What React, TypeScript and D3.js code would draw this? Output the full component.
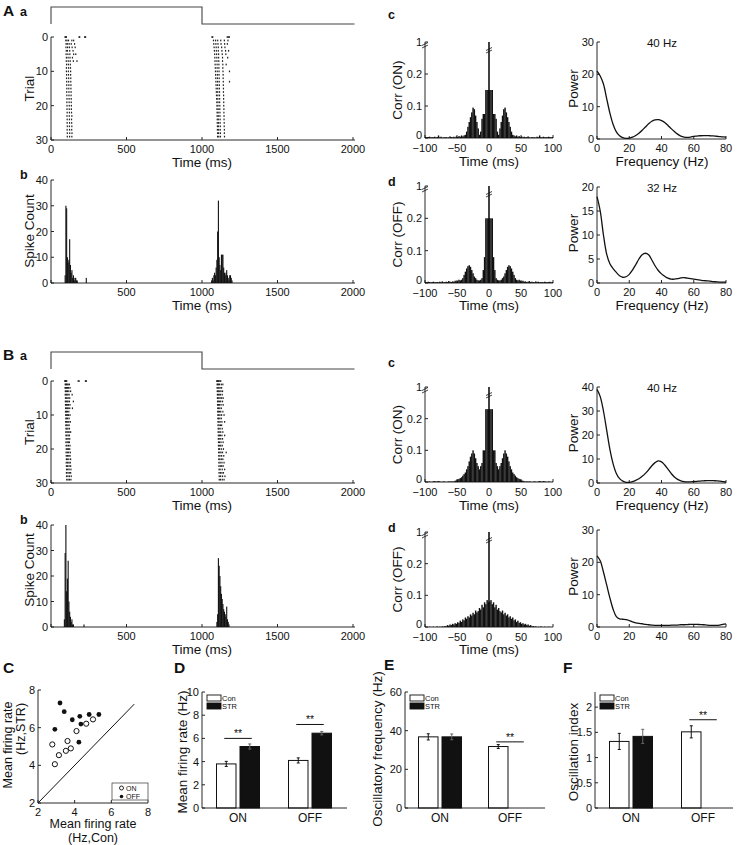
import React from "react";
import * as d3 from "d3";

const FONT = "'Liberation Sans', Arial, Helvetica, sans-serif";
const INK = "#111";

// ---------------- data ----------------
const TIME_TICKS = [0, 500, 1000, 1500, 2000];
const TRIAL_TICKS = [0, 10, 20, 30];
const COUNT_TICKS = [0, 10, 20, 30, 40];
const LAG_TICKS = [-100, -50, 0, 50, 100];
const LAG_LABELS = ["\u2212100", "\u221250", "0", "50", "100"];
const CORR_TICKS = [0, 0.1, 0.2, 0.3];
const CORR_LABELS = ["0", "0.1", "0.2", "1"];
const FREQ_TICKS = [0, 20, 40, 60, 80];

// stimulus: [time ms, level]
const STIMULUS = [
  [0, 0],
  [0, 1],
  [1000, 1],
  [1000, 0],
  [2010, 0],
];

// raster: per trial "ON spikes | OFF spikes" (ms)
const RASTER_A = [
  "93 97 102 186 190 223 229 | 1066 1071 1167 1174 1181",
  "98 106 116 138 150 | 1076 1090 1104 1124 1148 1172",
  "100 108 120 134 156 | 1078 1092 1106 1126 1150 1168",
  "99 110 122 140 160 | 1080 1094 1108 1130 1152",
  "101 109 124 146 | 1082 1095 1108 1132 1156 1176",
  "100 112 125 150 164 | 1084 1097 1110 1134 1158",
  "102 113 126 142 | 1085 1098 1110 1136 1170",
  "101 114 127 148 172 | 1086 1099 1111 1136",
  "103 115 128 | 1087 1100 1112 1138 1160",
  "102 116 129 | 1088 1100 1112 1138",
  "102 115 130 | 1089 1101 1113 1139 1182",
  "103 116 130 | 1090 1102 1113 1140",
  "103 117 131 | 1091 1102 1114 1140",
  "104 117 131 | 1092 1103 1114 1141 1182",
  "104 118 132 | 1093 1103 1115 1141",
  "105 118 132 | 1094 1104 1115 1142",
  "104 119 133 | 1095 1104 1116 1142",
  "105 119 133 | 1096 1105 1116 1143",
  "106 120 134 | 1097 1105 1117 1143",
  "105 120 134 | 1098 1106 1117 1144",
  "106 121 135 | 1099 1106 1118 1144",
  "106 121 135 | 1099 1107 1118 1145",
  "107 122 136 | 1100 1107 1119 1145",
  "106 121 138 | 1100 1108 1119 1146",
  "107 122 136 | 1101 1108 1120 1146",
  "107 123 137 | 1101 1109 1120 1147",
  "108 122 138 | 1102 1109 1121 1147",
  "107 123 137 | 1102 1110 1121 1148",
  "108 124 139 | 1103 1110 1122 1148",
  "108 123 138 | 1103 1111 1122 1149",
];

const RASTER_B = [
  "92 94 97 100 104 180 186 228 234 | 1098 1102 1106 1110 1118 1124",
  "94 98 102 108 114 122 | 1100 1104 1110 1116 1128 1138",
  "93 97 103 109 116 126 | 1100 1106 1112 1120 1130",
  "95 99 104 110 118 130 | 1101 1105 1111 1118 1126 1136",
  "94 100 105 112 120 140 | 1102 1108 1114 1122 1134",
  "96 100 106 114 124 | 1102 1106 1112 1120 1130 1140",
  "95 101 107 113 122 148 | 1103 1108 1116 1124 1136",
  "96 102 108 116 126 | 1103 1109 1115 1126 1140",
  "97 101 108 114 124 142 | 1104 1110 1118 1128",
  "96 102 109 118 | 1104 1108 1116 1124 1138",
  "97 103 110 116 126 | 1105 1111 1119 1130 1146",
  "98 104 110 120 | 1105 1110 1118 1128",
  "97 103 111 118 128 | 1106 1112 1120 1132 1150",
  "98 104 112 120 | 1106 1113 1122 1130",
  "99 105 112 122 | 1107 1112 1120 1134",
  "98 106 113 120 130 | 1107 1114 1124 1138",
  "99 105 114 122 | 1108 1115 1122 1132 1150",
  "100 106 114 124 | 1108 1114 1124 1136",
  "99 107 115 122 | 1109 1116 1126 1140",
  "100 106 116 126 | 1109 1117 1124 1134",
  "101 108 116 124 | 1110 1116 1128 1142",
  "100 108 117 128 | 1110 1118 1126 1136 1160",
  "101 109 118 126 | 1111 1119 1130 1144",
  "102 108 118 130 | 1111 1118 1128 1138",
  "101 110 119 128 | 1112 1120 1132 1146",
  "102 110 120 130 | 1112 1121 1130 1140",
  "103 111 120 132 | 1113 1120 1134 1150",
  "102 112 121 130 | 1113 1122 1132 1142",
  "103 112 122 134 | 1114 1123 1136 1152",
  "104 113 122 132 | 1114 1122 1134 1146",
];

// PSTH, 5 ms bins
const HIST_BIN = 5;
const HIST_A_ON_START = 90;
const HIST_A_ON = [3, 30, 29, 10, 8, 9, 17, 7, 4, 5, 2, 3, 1, 2, 2, 1, 1, 0, 0, 0, 0, 0, 0, 0, 0, 0, 0, 0, 2];
const HIST_A_OFF_START = 1060;
const HIST_A_OFF = [1, 2, 1, 3, 4, 3, 6, 9, 20, 32, 10, 7, 5, 11, 11, 11, 6, 4, 3, 4, 5, 3, 2, 1, 3, 3, 2, 1];
const HIST_B_ON_START = 85;
const HIST_B_ON = [3, 29, 40, 14, 19, 26, 10, 6, 4, 2, 3, 1, 1, 0, 0, 0, 0, 0, 0, 0, 0, 0, 0, 0, 0, 0, 1];
const HIST_B_OFF_START = 1095;
const HIST_B_OFF = [2, 5, 27, 24, 20, 16, 13, 11, 9, 7, 6, 5, 4, 8, 3, 2, 1];

// autocorrelograms: 2 ms bins, lags 1,3,...,99 ms (symmetric)
const CORR_BIN = 2;
const CORR_A_ON = [
  0.15, 0.15, 0.15, 0.075, 0.075, 0.06, 0.02, 0.01, 0.03, 0.05, 0.07, 0.09, 0.095, 0.08, 0.065, 0.05, 0.035, 0.02,
  0.01, 0.008, 0.005, 0.008, 0.004, 0.006, 0.003, 0.005, 0.002, 0.004, 0.002, 0.003, 0.005, 0.002, 0.001, 0.003,
  0.002, 0.002, 0.001, 0.004, 0.002, 0.008, 0.003, 0.002, 0.004, 0.002, 0.003, 0.002, 0.004, 0.003, 0.002, 0.003,
];
const CORR_A_OFF = [
  0.2, 0.2, 0.2, 0.08, 0.04, 0.015, 0.01, 0.008, 0.008, 0.01, 0.015, 0.02, 0.03, 0.04, 0.05, 0.055, 0.052, 0.045,
  0.035, 0.025, 0.015, 0.01, 0.008, 0.01, 0.006, 0.005, 0.007, 0.004, 0.005, 0.003, 0.004, 0.006, 0.003, 0.004,
  0.003, 0.002, 0.005, 0.003, 0.004, 0.002, 0.003, 0.003, 0.002, 0.004, 0.003, 0.002, 0.003, 0.004, 0.002, 0.003,
];
const CORR_B_ON = [
  0.23, 0.23, 0.23, 0.1, 0.1, 0.06, 0.05, 0.04, 0.05, 0.06, 0.075, 0.09, 0.1, 0.09, 0.08, 0.065, 0.05, 0.04, 0.03,
  0.025, 0.02, 0.015, 0.012, 0.01, 0.008, 0.005, 0.004, 0.002, 0.001, 0.002, 0.001, 0.002, 0.001, 0, 0.001, 0.002,
  0.001, 0, 0.002, 0.003, 0.002, 0.001, 0.003, 0.002, 0.001, 0, 0.002, 0.001, 0, 0.001,
];
const CORR_B_OFF = [
  0.08, 0.085, 0.072, 0.078, 0.062, 0.07, 0.055, 0.06, 0.05, 0.046, 0.052, 0.04, 0.045, 0.036, 0.04, 0.03, 0.034,
  0.026, 0.03, 0.021, 0.024, 0.016, 0.02, 0.013, 0.015, 0.01, 0.012, 0.008, 0.01, 0.006, 0.008, 0.004, 0.006, 0.002,
  0.003, 0.001, 0.002, 0, 0.001, 0, 0.002, 0, 0, 0.001, 0, 0, 0.001, 0, 0, 0,
];

// power spectra, 2 Hz steps from 0 to 80 Hz
const FREQ_STEP = 2;
const POWER_A_ON = [
  21, 19.5, 17, 12.5, 8, 4.5, 2.2, 1, 0.4, 0.2, 0.3, 0.6, 1.1, 1.8, 2.7, 3.7, 4.7, 5.5, 5.9, 6.0, 5.7, 5.1, 4.2, 3.2,
  2.3, 1.5, 0.9, 0.6, 0.5, 0.6, 0.8, 0.9, 1.0, 1.05, 1.05, 1.0, 0.95, 0.85, 0.75, 0.65, 0.6,
];
const POWER_A_OFF = [
  18, 15, 10, 6, 4, 3, 2.2, 1.5, 1.2, 1.3, 1.8, 2.7, 3.8, 5, 5.9, 6.2, 5.9, 4.8, 3.6, 2.6, 1.9, 1.4, 1.0, 0.8, 0.8, 0.9,
  1.05, 1.1, 1.0, 0.9, 0.8, 0.7, 0.6, 0.5, 0.45, 0.4, 0.3, 0.25, 0.2, 0.2, 0.2,
];
const POWER_B_ON = [
  39, 36, 30, 22, 14, 8, 4, 1.8, 0.8, 0.3, 0.3, 0.6, 1.1, 1.8, 2.8, 4, 5.5, 7.2, 8.5, 9.2, 8.8, 7.5, 5.8, 4, 2.5, 1.5,
  0.9, 0.6, 0.5, 0.5, 0.6, 0.7, 0.8, 0.9, 1.0, 1.0, 1.0, 0.9, 0.8, 0.6, 0.4,
];
const POWER_B_OFF = [
  22, 20.5, 17, 13, 9, 5.5, 3.2, 2.5, 2.4, 2.3, 2.0, 1.6, 1.3, 1.1, 1.0, 0.8, 0.7, 0.6, 0.5, 0.5, 0.5, 0.5, 0.5, 0.55,
  0.6, 0.6, 0.7, 0.7, 0.75, 0.8, 0.8, 0.8, 0.75, 0.7, 0.6, 0.5, 0.5, 0.5, 0.6, 0.8, 1.0,
];

// summary
const SCATTER_ON = [
  [2.78, 5.11], [2.92, 4.06], [3.14, 4.54], [3.52, 4.77], [3.61, 5.29], [3.79, 4.9], [4.1, 5.82], [4.63, 6.21], [5.0, 6.44],
];
const SCATTER_OFF = [
  [2.92, 5.91], [3.2, 7.31], [3.43, 6.85], [3.87, 6.42], [4.28, 6.6], [4.34, 6.19], [4.23, 5.23], [4.79, 6.7], [5.32, 6.7],
];
const SCATTER_TICKS = [2, 4, 6, 8];

const GROUPS = ["ON", "OFF"];
const RATE_CON = [3.8, 4.1];
const RATE_CON_ERR = [0.22, 0.22];
const RATE_STR = [5.3, 6.45];
const RATE_STR_ERR = [0.22, 0.15];
const RATE_SIG = [6.0, 7.2];
const RATE_TICKS = [0, 2, 4, 6, 8, 10];

const OFREQ_CON = [36.8, 31.8];
const OFREQ_CON_ERR = [1.6, 1.0];
const OFREQ_STR = [36.8, null];
const OFREQ_STR_ERR = [1.5, null];
const OFREQ_SIG = [null, 34.2];
const OFREQ_TICKS = [0, 20, 40, 60];

const OSC_CON = [1.32, 1.51];
const OSC_CON_ERR = [0.16, 0.12];
const OSC_STR = [1.42, null];
const OSC_STR_ERR = [0.14, null];
const OSC_SIG = [null, 1.75];
const OSC_TICKS = [0, 0.5, 1, 1.5, 2];

// ---------------- helpers ----------------
const SW = 0.9;

function T({ x, y, s = 11, a = "middle", w = "normal", r = 0, children }: any) {
  return (
    <text
      x={x}
      y={y}
      fontSize={s}
      textAnchor={a}
      dominantBaseline="central"
      fontWeight={w}
      fontFamily={FONT}
      fill={INK}
      transform={r ? `rotate(${r},${x},${y})` : undefined}
    >
      {children}
    </text>
  );
}

function LeftAxis({ scale, x, ticks, labels, fs = 11, tl = 3, firstDy = 0 }: any) {
  const [r0, r1] = scale.range();
  return (
    <g>
      <line x1={x} x2={x} y1={r0} y2={r1} stroke={INK} strokeWidth={SW} />
      {ticks.map((t: number, i: number) => (
        <g key={i}>
          <line x1={x} x2={x + tl} y1={scale(t)} y2={scale(t)} stroke={INK} strokeWidth={SW} />
          <T x={x - 3} y={scale(t) + (i === 0 ? firstDy : 0)} s={fs} a="end">
            {labels ? labels[i] : String(t)}
          </T>
        </g>
      ))}
    </g>
  );
}

function BottomAxis({ scale, y, ticks, labels, fs = 11, tl = 3, skipFirst = false, x1, dy = 9 }: any) {
  const [r0, r1] = scale.range();
  return (
    <g>
      <line x1={r0} x2={x1 ?? r1} y1={y} y2={y} stroke={INK} strokeWidth={SW} />
      {ticks.map((t: number, i: number) => (
        <g key={i}>
          <line x1={scale(t)} x2={scale(t)} y1={y} y2={y - tl} stroke={INK} strokeWidth={SW} />
          {!(skipFirst && i === 0) && (
            <T x={scale(t)} y={y + dy} s={fs}>
              {labels ? labels[i] : String(t)}
            </T>
          )}
        </g>
      ))}
    </g>
  );
}

function parseRaster(rows: string[]) {
  const pts: { t: number; trial: number }[] = [];
  rows.forEach((row, trial) => {
    row
      .split(/[\s|]+/)
      .filter(Boolean)
      .map(Number)
      .forEach((t) => pts.push({ t, trial }));
  });
  return pts;
}

function BreakMark({ x, y }: any) {
  return (
    <g stroke={INK} strokeWidth={0.8}>
      <line x1={x - 3} y1={y + 1.5} x2={x + 3} y2={y - 1.5} />
      <line x1={x - 3} y1={y + 4} x2={x + 3} y2={y + 1} />
    </g>
  );
}

function Correlogram({ vals, yRange, label, letter, letterY }: any) {
  const x = d3.scaleLinear().domain([-100, 100]).range([425, 553]);
  const y = d3.scaleLinear().domain([0, 0.3]).range(yRange);
  const y0 = y(0);
  const bars: any[] = [];
  vals.forEach((v: number, i: number) => {
    const lag = CORR_BIN / 2 + i * CORR_BIN;
    [-1, 1].forEach((sg) => {
      const c = sg * lag;
      const xa = x(c - CORR_BIN / 2);
      const xb = x(c + CORR_BIN / 2);
      if (v > 0)
        bars.push(
          <rect key={`${i}_${sg}`} x={xa} width={xb - xa + 0.15} y={y(v)} height={y0 - y(v)} fill={INK} />
        );
    });
  });
  const top = y(0.3);
  return (
    <g>
      <T x={388} y={letterY} s={12.5} w="bold" a="start">
        {letter}
      </T>
      {bars}
      <line x1={x(0)} x2={x(0)} y1={y0} y2={top} stroke={INK} strokeWidth={1.6} />
      <BreakMark x={x(0)} y={top + 7} />
      <LeftAxis scale={y} x={425} ticks={CORR_TICKS} labels={CORR_LABELS} firstDy={-3} />
      <BreakMark x={425} y={top + 2} />
      <BottomAxis scale={x} y={y0} ticks={LAG_TICKS} labels={LAG_LABELS} dy={10} />
      <T x={397} y={(y0 + top) / 2} s={13.5} r={-90}>
        {label}
      </T>
    </g>
  );
}

function PowerPlot({ vals, yMax, yTicks, yRange, title, showXLabel }: any) {
  const x = d3.scaleLinear().domain([0, 80]).range([597, 726]);
  const y = d3.scaleLinear().domain([0, yMax]).range(yRange);
  const line = d3
    .line<number>()
    .x((_, i) => x(i * FREQ_STEP))
    .y((d) => y(d))
    .curve(d3.curveCatmullRom.alpha(0.5));
  return (
    <g>
      <path d={line(vals) || ""} fill="none" stroke={INK} strokeWidth={1.3} />
      <LeftAxis scale={y} x={597} ticks={yTicks} />
      <BottomAxis scale={x} y={y(0)} ticks={FREQ_TICKS} />
      <T x={662} y={y(yMax) + 1} s={11.5}>
        {title}
      </T>
      <T x={573} y={(y(0) + y(yMax)) / 2 - 2} s={13.5} r={-90}>
        Power
      </T>
      {showXLabel && (
        <T x={662} y={y(0) + 22} s={13.5}>
          Frequency (Hz)
        </T>
      )}
    </g>
  );
}

function Histogram({ x, y, start, counts }: any) {
  return (
    <g>
      {counts.map((c: number, i: number) => {
        if (!c) return null;
        const t = start + i * HIST_BIN;
        const xa = x(t);
        const w = Math.max(1.1, x(t + HIST_BIN) - xa);
        return <rect key={i} x={xa} width={w} y={y(c)} height={y(0) - y(c)} fill={INK} />;
      })}
    </g>
  );
}

function NeuronBlock({ L, raster, hOnStart, hOn, hOffStart, hOff, cOn, cOff, pOn, pOff }: any) {
  const xT = d3.scaleLinear().domain([0, 2000]).range([51, 353]);
  const yR = d3.scaleLinear().domain([0, 30]).range(L.raster);
  const yH = d3.scaleLinear().domain([0, 40]).range(L.hist);
  const yS = d3.scaleLinear().domain([0, 1]).range([L.stimLow, L.stimHigh]);
  const stimLine = d3
    .line<number[]>()
    .x((d) => xT(d[0]))
    .y((d) => yS(d[1]));
  const spikes = parseRaster(raster);
  return (
    <g>
      <T x={3} y={L.letterY} s={15.5} w="bold" a="start">
        {L.letter}
      </T>
      <T x={20} y={L.letterY + 2} s={12.5} w="bold" a="start">
        a
      </T>
      <path d={stimLine(STIMULUS as any) || ""} fill="none" stroke="#444" strokeWidth={1.1} />
      {/* raster */}
      {spikes.map((s, i) => (
        <rect key={i} x={xT(s.t) - 0.6} y={yR(s.trial) - 0.8} width={1.2} height={1.7} fill="#222" />
      ))}
      <LeftAxis scale={yR} x={51} ticks={TRIAL_TICKS} />
      <BottomAxis scale={xT} y={L.raster[1]} ticks={TIME_TICKS} x1={355} />
      <T x={29} y={(L.raster[0] + L.raster[1]) / 2} s={13.5} r={-90}>
        Trial
      </T>
      <T x={202} y={L.raster[1] + 22} s={13.5}>
        Time (ms)
      </T>
      {/* histogram */}
      <T x={20} y={L.bY} s={12.5} w="bold" a="start">
        b
      </T>
      <Histogram x={xT} y={yH} start={hOnStart} counts={hOn} />
      <Histogram x={xT} y={yH} start={hOffStart} counts={hOff} />
      <LeftAxis scale={yH} x={51} ticks={COUNT_TICKS} />
      <BottomAxis scale={xT} y={L.hist[0]} ticks={TIME_TICKS} skipFirst x1={355} />
      <T x={29} y={L.histLabelY} s={13.5} r={-90}>
        Spike Count
      </T>
      <T x={202} y={L.hist[0] + 22} s={13.5}>
        Time (ms)
      </T>
      {/* correlograms */}
      <Correlogram vals={cOn} yRange={L.corrC} label="Corr (ON)" letter="c" letterY={L.cY} />
      <T x={489} y={L.corrC[0] + 23} s={13.5}>
        Time (ms)
      </T>
      <Correlogram vals={cOff} yRange={L.corrD} label="Corr (OFF)" letter="d" letterY={L.dY} />
      <T x={489} y={L.corrD[0] + 22} s={13.5}>
        Time (ms)
      </T>
      <PowerPlot {...pOn} showXLabel />
      <PowerPlot {...pOff} showXLabel={L.offFreqLabel} />
    </g>
  );
}

const LAYOUT_A = {
  letter: "A",
  letterY: 10,
  stimHigh: 7,
  stimLow: 24,
  raster: [37, 140],
  hist: [283, 180],
  histLabelY: 231,
  bY: 175,
  corrC: [138, 42],
  corrD: [283, 186],
  cY: 15,
  dY: 182,
  offFreqLabel: true,
};
const LAYOUT_B = {
  letter: "B",
  letterY: 354,
  stimHigh: 352,
  stimLow: 369,
  raster: [381, 483],
  hist: [627, 525],
  histLabelY: 570,
  bY: 520,
  corrC: [482, 387],
  corrD: [627, 532],
  cY: 363,
  dY: 528,
  offFreqLabel: false,
};

function Scatter() {
  const x = d3.scaleLinear().domain([2, 8]).range([38, 148]);
  const y = d3.scaleLinear().domain([2, 8]).range([803, 690]);
  return (
    <g>
      <T x={3} y={667} s={15.5} w="bold" a="start">
        C
      </T>
      <line x1={x(2)} y1={y(2)} x2={x(7.25)} y2={y(7.25)} stroke={INK} strokeWidth={1} />
      {SCATTER_ON.map((d, i) => (
        <circle key={`on${i}`} cx={x(d[0])} cy={y(d[1])} r={2.6} fill="#fff" stroke={INK} strokeWidth={1} />
      ))}
      {SCATTER_OFF.map((d, i) => (
        <circle key={`off${i}`} cx={x(d[0])} cy={y(d[1])} r={2.4} fill={INK} />
      ))}
      <LeftAxis scale={y} x={38} ticks={SCATTER_TICKS} />
      <BottomAxis scale={x} y={803} ticks={SCATTER_TICKS} />
      <rect x={112} y={783} width={36} height={17} fill="#fff" stroke={INK} strokeWidth={0.6} />
      <circle cx={121.5} cy={788} r={2} fill="#fff" stroke={INK} strokeWidth={0.9} />
      <circle cx={121.5} cy={796.5} r={1.8} fill={INK} />
      <T x={126} y={788} s={7} a="start">
        ON
      </T>
      <T x={126} y={796.5} s={7} a="start">
        OFF
      </T>
      <T x={93} y={824} s={12.5}>
        Mean firing rate
      </T>
      <T x={93} y={838} s={12.5}>
        (Hz,Con)
      </T>
      <T x={8} y={745} s={12.5} r={-90}>
        Mean firing rate
      </T>
      <T x={21} y={729} s={12.5} r={-90}>
        (Hz,STR)
      </T>
    </g>
  );
}

function BarPanel({ range, yMax, ticks, con, conErr, str, strErr, sig, ylabel, ylabelX, ylabelY, letter, letterX, letterY = 667, axisEnd }: any) {
  const x = d3.scaleLinear().domain([0.5, 2.5]).range(range);
  const y = d3.scaleLinear().domain([0, yMax]).range([808, 692]);
  const bw = 19.5;
  const bars: any[] = [];
  GROUPS.forEach((g, i) => {
    const c = x(i + 1);
    const items = [
      { v: con[i], e: conErr[i], fill: "#fff", xa: c - 2 - bw },
      { v: str[i], e: strErr[i], fill: INK, xa: c + 2 },
    ];
    items.forEach((it, j) => {
      if (it.v == null) return;
      const cx = it.xa + bw / 2;
      const ec = it.fill === INK ? "#666" : INK;
      bars.push(
        <g key={`${i}_${j}`}>
          <rect x={it.xa} y={y(it.v)} width={bw} height={808 - y(it.v)} fill={it.fill} stroke={INK} strokeWidth={1} />
          <line x1={cx} x2={cx} y1={y(it.v - it.e)} y2={y(it.v + it.e)} stroke={ec} strokeWidth={1} />
          <line x1={cx - 1.5} x2={cx + 1.5} y1={y(it.v + it.e)} y2={y(it.v + it.e)} stroke={ec} strokeWidth={1} />
          <line x1={cx - 1.5} x2={cx + 1.5} y1={y(it.v - it.e)} y2={y(it.v - it.e)} stroke={ec} strokeWidth={1} />
        </g>
      );
    });
    if (sig[i] != null) {
      const xa = c - 2 - bw / 2 - 2;
      const xb = c + 2 + bw / 2 + 2;
      bars.push(
        <g key={`sig${i}`}>
          <line x1={xa} x2={xb} y1={y(sig[i])} y2={y(sig[i])} stroke={INK} strokeWidth={1} />
          <T x={(xa + xb) / 2} y={y(sig[i]) - 5} s={10.5}>
            **
          </T>
        </g>
      );
    }
    bars.push(
      <T key={`lab${i}`} x={c} y={818} s={12}>
        {g}
      </T>
    );
  });
  const lx = range[0] + 5;
  return (
    <g>
      <T x={letterX} y={letterY} s={15.5} w="bold" a="start">
        {letter}
      </T>
      {bars}
      <line x1={range[0]} x2={axisEnd} y1={808} y2={808} stroke={INK} strokeWidth={SW} />
      <line x1={range[0]} x2={range[0]} y1={808} y2={692} stroke={INK} strokeWidth={SW} />
      {ticks.map((t: number, i: number) => (
        <g key={`t${i}`}>
          <line x1={range[0]} x2={range[0] + 3} y1={y(t)} y2={y(t)} stroke={INK} strokeWidth={SW} />
          <T x={range[0] - 3} y={y(t)} s={11} a="end">
            {String(t)}
          </T>
        </g>
      ))}
      <rect x={lx} y={695} width={14} height={6} fill="#fff" stroke={INK} strokeWidth={0.9} />
      <rect x={lx} y={703} width={14} height={6} fill={INK} stroke={INK} strokeWidth={0.9} />
      <T x={lx + 15} y={698} s={7.5} a="start">
        Con
      </T>
      <T x={lx + 15} y={706} s={7.5} a="start">
        STR
      </T>
      <T x={ylabelX} y={ylabelY} s={13.5} r={-90}>
        {ylabel}
      </T>
    </g>
  );
}

export default function App() {
  return (
    <svg width={738} height={845} style={{ position: "absolute", left: 0, top: 0, background: "#fff" }}>
      <rect width={738} height={845} fill="#fff" />
      <NeuronBlock
        L={LAYOUT_A}
        raster={RASTER_A}
        hOnStart={HIST_A_ON_START}
        hOn={HIST_A_ON}
        hOffStart={HIST_A_OFF_START}
        hOff={HIST_A_OFF}
        cOn={CORR_A_ON}
        cOff={CORR_A_OFF}
        pOn={{ vals: POWER_A_ON, yMax: 30, yTicks: [0, 10, 20, 30], yRange: [139, 42], title: "40 Hz" }}
        pOff={{ vals: POWER_A_OFF, yMax: 20, yTicks: [0, 5, 10, 15, 20], yRange: [283, 187], title: "32 Hz" }}
      />
      <NeuronBlock
        L={LAYOUT_B}
        raster={RASTER_B}
        hOnStart={HIST_B_ON_START}
        hOn={HIST_B_ON}
        hOffStart={HIST_B_OFF_START}
        hOff={HIST_B_OFF}
        cOn={CORR_B_ON}
        cOff={CORR_B_OFF}
        pOn={{ vals: POWER_B_ON, yMax: 40, yTicks: [0, 10, 20, 30, 40], yRange: [483, 387], title: "40 Hz" }}
        pOff={{ vals: POWER_B_OFF, yMax: 30, yTicks: [0, 10, 20, 30], yRange: [627, 530], title: "" }}
      />
      <Scatter />
      <BarPanel
        range={[202, 346]}
        axisEnd={347}
        yMax={10}
        ticks={RATE_TICKS}
        con={RATE_CON}
        conErr={RATE_CON_ERR}
        str={RATE_STR}
        strErr={RATE_STR_ERR}
        sig={RATE_SIG}
        ylabel="Mean firing rate (Hz)"
        ylabelX={182}
        ylabelY={752}
        letter="D"
        letterX={174}
      />
      <BarPanel
        range={[405, 545]}
        axisEnd={545}
        yMax={60}
        ticks={OFREQ_TICKS}
        con={OFREQ_CON}
        conErr={OFREQ_CON_ERR}
        str={OFREQ_STR}
        strErr={OFREQ_STR_ERR}
        sig={OFREQ_SIG}
        ylabel="Oscillatory frequency (Hz)"
        ylabelX={377}
        ylabelY={749}
        letter="E"
        letterX={384}
        letterY={664}
      />
      <BarPanel
        range={[595, 739]}
        axisEnd={733}
        yMax={2.3}
        ticks={OSC_TICKS}
        con={OSC_CON}
        conErr={OSC_CON_ERR}
        str={OSC_STR}
        strErr={OSC_STR_ERR}
        sig={OSC_SIG}
        ylabel="Oscillation index"
        ylabelX={573}
        ylabelY={752}
        letter="F"
        letterX={563}
      />
    </svg>
  );
}
